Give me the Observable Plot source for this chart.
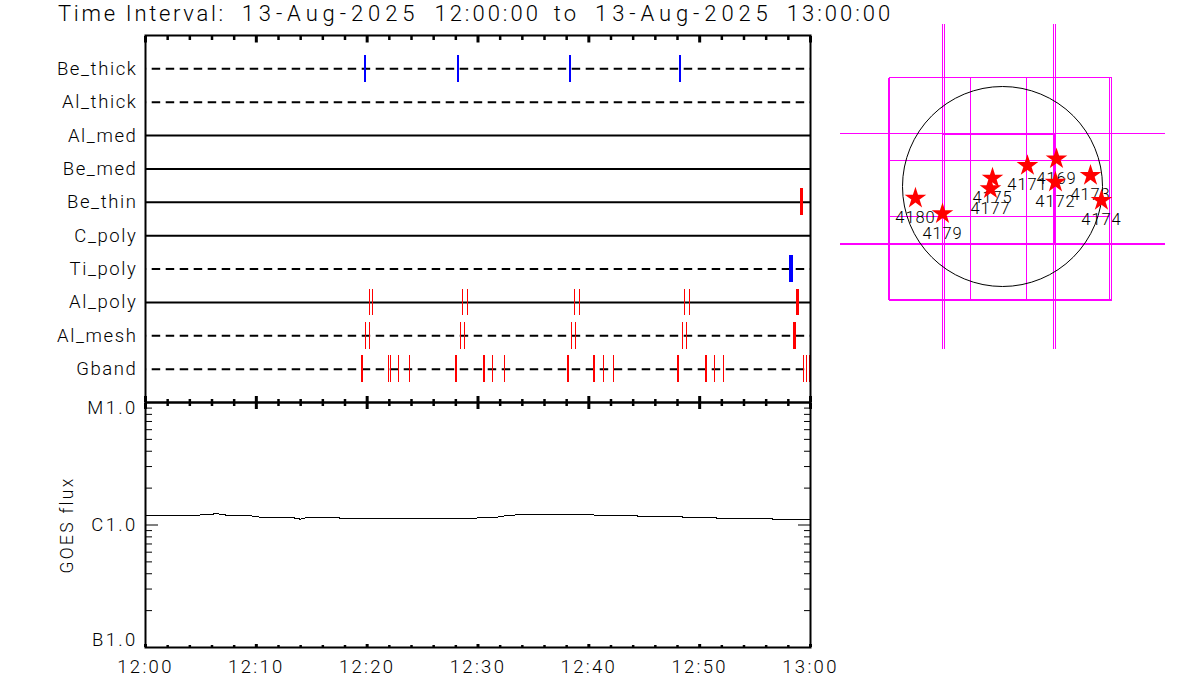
<!DOCTYPE html>
<html>
<head>
<meta charset="utf-8">
<script src="https://cdn.jsdelivr.net/npm/d3@7"></script>
<script src="https://cdn.jsdelivr.net/npm/@observablehq/plot@0.6"></script>
<style>
html,body{margin:0;padding:0;background:#fff;width:1200px;height:700px;overflow:hidden}
#chart{position:relative;width:1200px;height:700px}
#chart svg{position:absolute}
#title{position:absolute;left:58px;top:1px;font:300 22px "Roboto";white-space:pre;color:#000}
#title .label{letter-spacing:2.7px}
#title .date{letter-spacing:4.9px}
#title .time{letter-spacing:3px}
#title .to{letter-spacing:3px}
</style>
</head>
<body>
<div id="chart"><div id="title"><span class="label">Time Interval:</span><span style="letter-spacing:10.4px"> </span><span class="date">13-Aug-2025</span><span style="letter-spacing:9.7px"> </span><span class="time">12:00:00</span><span style="letter-spacing:7.6px"> </span><span class="to">to</span><span style="letter-spacing:10.6px"> </span><span class="date">13-Aug-2025</span><span style="letter-spacing:8.7px"> </span><span class="time">13:00:00</span></div></div>
<script>
// channels, top to bottom
const rowNames = ["Be_thick","Al_thick","Al_med","Be_med","Be_thin","C_poly","Ti_poly","Al_poly","Al_mesh","Gband"];
const rowDashed = [true,true,false,false,false,false,true,false,true,true];
const rowColors = ["#0000ff","#ff0000","#ff0000","#ff0000","#ff0000","#ff0000","#0000ff","#ff0000","#ff0000","#ff0000"];

// exposure times, minutes after 12:00: short (thin) and long (thick)
const shortExposures = [
  [19.76,28.24,38.26,48.27],
  [],[],[],[],[],[],
  [20.18,20.51,28.63,29.08,38.68,39.13,48.66,49.11],
  [19.88,20.24,28.45,28.81,38.46,38.82,48.48,48.84],
  [21.9,22.08,22.85,23.85,31.34,32.42,40.4,40.54,41.35,42.26,51.37,52.18,59.4,59.62,59.94]
];
const longExposures = [
  [],[],[],[],
  [59.22],[],
  [58.2],
  [58.86],
  [58.59],
  [19.49,28.06,30.5,38.08,48.09,50.53]
];

const majorMinutes = [0,10,20,30,40,50,60];
const minorMinutes = [2,4,6,8,12,14,16,18,22,24,26,28,32,34,36,38,42,44,46,48,52,54,56,58];
const timeLabels = ["12:00","12:10","12:20","12:30","12:40","12:50","13:00"];

// GOES flux
const goesMinutes = [0,0.45,4.36,5.41,6.47,7.52,9.47,10.53,13.35,13.99,14.44,17.5,17.6,29.48,30.23,31.4,32.48,33.54,40.42,40.6,44.36,44.48,48.45,48.54,51.49,51.58,56.54,56.63,59.55,59.91];
const goesFlux = [1.202e-6,1.189e-6,1.189e-6,1.22e-6,1.234e-6,1.196e-6,1.189e-6,1.151e-6,1.145e-6,1.115e-6,1.145e-6,1.145e-6,1.123e-6,1.123e-6,1.151e-6,1.145e-6,1.189e-6,1.211e-6,1.211e-6,1.189e-6,1.189e-6,1.173e-6,1.167e-6,1.145e-6,1.145e-6,1.123e-6,1.123e-6,1.103e-6,1.103e-6,1.115e-6];
const fluxClasses = ["B1.0","C1.0","M1.0"];
const fluxDecades = [1e-7,1e-6,1e-5];
const fluxMinor = [2e-7,3e-7,4e-7,5e-7,6e-7,7e-7,8e-7,9e-7,2e-6,3e-6,4e-6,5e-6,6e-6,7e-6,8e-6,9e-6];

// solar map, arcsec from disk centre
const regions = ["4169","4171","4172","4173","4174","4175","4177","4179","4180"];
const regionX = [513,237,503,836,940,-95,-114,-570,-827];
const regionY = [262,199,41,105,-133,79,-22,-259,-111];
const fovLongX = [-570,-551,484.5,503.5];
const fovLongY = [503.5,-547];
const fovBoxX = [-1083,-304,228,1016.5,1035.5];
const fovBoxY = [1035.5,247,-285,-1078];
const fovCentreX = [-570,494];

const base = {fontFamily:"Roboto",fontWeight:300,letterSpacing:"1.6px",overflow:"visible",background:"transparent",color:"#000"};
const root = document.getElementById("chart");
const place = (svg,left,top)=>{svg.style.left=left+"px";svg.style.top=top+"px";root.appendChild(svg);};
const ink = "#000";

// --- top panel ---
const rowIndex = rowNames.map((d,i)=>i+1);
const shortWidth = i=>rowNames[i]==="Be_thick"?2:1;
const longWidth = i=>rowNames[i]==="Ti_poly"?4:rowNames[i]==="Gband"?2:3;
const exposures = (table,widthOf)=>table.flatMap((list,i)=>list.map(t=>({t,row:i+1,color:rowColors[i],width:widthOf(i)})));
const allExposures = [...exposures(shortExposures,shortWidth),...exposures(longExposures,longWidth)];
const halfTick = 0.4;
const channelPlot = Plot.plot({
  width:830,height:402,marginLeft:145,marginRight:20,marginTop:35,marginBottom:0,
  style:base,
  x:{domain:[0,60],axis:null},
  y:{domain:[11,0],axis:null},
  marks:[
    Plot.ruleY(rowIndex.filter((d,i)=>!rowDashed[i]),{stroke:ink,strokeWidth:2}),
    Plot.ruleY(rowIndex.filter((d,i)=>rowDashed[i]),{stroke:ink,strokeWidth:2,strokeDasharray:"8.5,5.5",strokeDashoffset:7.3}),
    Plot.ruleX(allExposures,{x:"t",y1:d=>d.row-halfTick,y2:d=>d.row+halfTick,stroke:"color",strokeWidth:"width",shapeRendering:"crispEdges"}),
    Plot.axisY(rowIndex,{anchor:"left",tickSize:0,tickPadding:8,tickFormat:i=>rowNames[i-1],fontSize:18.5,label:null}),
    Plot.axisX(majorMinutes,{anchor:"top",tickSize:-6.5,fill:"none",label:null,strokeWidth:3}),
    Plot.axisX(minorMinutes,{anchor:"top",tickSize:-4,fill:"none",label:null,strokeWidth:2.5}),
    Plot.axisX(majorMinutes,{anchor:"bottom",tickSize:-6,fill:"none",label:null,strokeWidth:3}),
    Plot.axisX(minorMinutes,{anchor:"bottom",tickSize:-3,fill:"none",label:null,strokeWidth:2.5}),
    Plot.frame({stroke:ink,strokeWidth:2})
  ]
});
place(channelPlot,0,0);

// --- flux panel ---
const fluxPlot = Plot.plot({
  width:830,height:298,marginLeft:145,marginRight:20,marginTop:0,marginBottom:53,
  style:{...base,letterSpacing:"2.3px"},
  x:{domain:[0,60],axis:null},
  y:{type:"log",domain:[1e-7,1e-5],axis:null},
  marks:[
    Plot.line(goesFlux,{x:goesMinutes,y:goesFlux,stroke:ink,strokeWidth:1,shapeRendering:"crispEdges",curve:"linear"}),
    Plot.axisY(fluxMinor,{anchor:"left",tickSize:-7,fill:"none",label:null,strokeWidth:1}),
    Plot.axisY(fluxMinor,{anchor:"right",tickSize:-7,fill:"none",label:null,strokeWidth:1}),
    Plot.axisY(fluxDecades,{anchor:"left",tickSize:-13,fill:"none",label:null,strokeWidth:1}),
    Plot.axisY(fluxDecades,{anchor:"right",tickSize:-13,fill:"none",label:null,strokeWidth:1}),
    Plot.axisX(majorMinutes,{anchor:"top",tickSize:-6,fill:"none",label:null,strokeWidth:3}),
    Plot.axisX(minorMinutes,{anchor:"top",tickSize:-3,fill:"none",label:null,strokeWidth:2.5}),
    Plot.axisX(majorMinutes,{anchor:"bottom",tickSize:-3,tickPadding:15,tickFormat:m=>timeLabels[majorMinutes.indexOf(m)],fontSize:18.5,label:null,strokeWidth:3}),
    Plot.axisX(minorMinutes,{anchor:"bottom",tickSize:-2,fill:"none",label:null,strokeWidth:2.5}),
    Plot.text([fluxClasses[0]],{y:()=>fluxDecades[0],frameAnchor:"left",textAnchor:"end",dx:-8,dy:-7,fontSize:18.5}),
    Plot.text([fluxClasses[1]],{y:()=>fluxDecades[1],frameAnchor:"left",textAnchor:"end",dx:-8,dy:0,fontSize:18.5}),
    Plot.text([fluxClasses[2]],{y:()=>fluxDecades[2],frameAnchor:"left",textAnchor:"end",dx:-8,dy:6,fontSize:18.5}),
    Plot.text(["GOES flux"],{y:()=>fluxDecades[1],frameAnchor:"left",textAnchor:"middle",dx:-78,rotate:-90,fontSize:17.5}),
    Plot.frame({stroke:ink,strokeWidth:2})
  ]
});
place(fluxPlot,0,402);

// --- solar map ---
const magenta = "#ff00ff";
const longEnd = 1548;
const boxRight = fovBoxX[fovBoxX.length-1];
const thinLinks = [
  ...fovLongX.map(x=>({x1:x,x2:x,y1:-longEnd,y2:longEnd})),
  {x1:-longEnd,x2:longEnd,y1:fovLongY[0],y2:fovLongY[0]},
  ...fovBoxX.slice(1).map(x=>({x1:x,x2:x,y1:fovBoxY[0],y2:fovBoxY[3]})),
  {x1:fovBoxX[0],x2:boxRight,y1:fovBoxY[0],y2:fovBoxY[0]},
  {x1:fovBoxX[0],x2:fovBoxX[3],y1:fovBoxY[1],y2:fovBoxY[1]},
  {x1:fovBoxX[0],x2:fovBoxX[3],y1:fovBoxY[2],y2:fovBoxY[2]}
];
const thickLinks = [
  {x1:-longEnd,x2:longEnd,y1:fovLongY[1],y2:fovLongY[1]},
  {x1:fovBoxX[0],x2:fovBoxX[0],y1:fovBoxY[0],y2:fovBoxY[3]},
  {x1:fovBoxX[0],x2:boxRight,y1:fovBoxY[3],y2:fovBoxY[3]},
  {x1:fovCentreX[0],x2:fovCentreX[1],y1:fovLongY[0],y2:fovLongY[0]}
];
const centreEdge = [{x1:fovCentreX[1],x2:fovCentreX[1],y1:fovLongY[0],y2:fovLongY[1]}];
const mapPlot = Plot.plot({
  width:340,height:340,margin:0,
  style:{...base,letterSpacing:"0.9px"},
  x:{domain:[-1634,1596],axis:null},
  y:{domain:[-1653,1577],axis:null},
  marks:[
    Plot.link(thinLinks,{x1:"x1",y1:"y1",x2:"x2",y2:"y2",stroke:magenta,strokeWidth:1,shapeRendering:"crispEdges"}),
    Plot.link(thickLinks,{x1:"x1",y1:"y1",x2:"x2",y2:"y2",stroke:magenta,strokeWidth:2,shapeRendering:"crispEdges"}),
    Plot.link(centreEdge,{x1:"x1",y1:"y1",x2:"x2",y2:"y2",stroke:magenta,strokeWidth:3,shapeRendering:"crispEdges"}),
    Plot.dot([0],{x:()=>0,y:()=>0,r:100,stroke:ink,strokeWidth:1,fill:"none"}),
    Plot.text(regions,{x:regionX,y:regionY,text:d=>d,dy:19.5,fontSize:16.5,fill:ink}),
    Plot.dot(regions,{x:regionX,y:regionY,symbol:"star",r:6.8,fill:"#ff0000",stroke:"none"})
  ]
});
place(mapPlot,830,20);
</script>
</body>
</html>
